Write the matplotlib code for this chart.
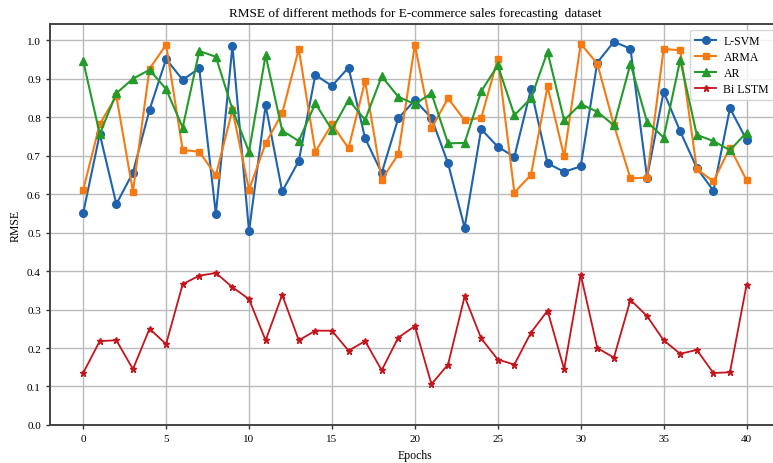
import numpy as np
import matplotlib.pyplot as plt

plt.rcParams['font.family'] = ['Liberation Serif', 'DejaVu Serif']

epochs = np.arange(41)

lsvm = [0.551, 0.756, 0.574, 0.656, 0.819, 0.951, 0.897, 0.927, 0.548, 0.985,
        0.503, 0.831, 0.607, 0.686, 0.910, 0.881, 0.929, 0.745, 0.655, 0.797,
        0.844, 0.798, 0.680, 0.513, 0.769, 0.723, 0.697, 0.873, 0.680, 0.658,
        0.672, 0.942, 0.996, 0.978, 0.643, 0.866, 0.763, 0.668, 0.609, 0.823,
        0.741]
arma = [0.611, 0.782, 0.855, 0.606, 0.926, 0.988, 0.715, 0.710, 0.649, 0.819,
        0.611, 0.732, 0.810, 0.977, 0.710, 0.782, 0.719, 0.894, 0.637, 0.704,
        0.988, 0.771, 0.849, 0.792, 0.798, 0.952, 0.604, 0.650, 0.880, 0.698,
        0.991, 0.939, 0.780, 0.641, 0.643, 0.977, 0.974, 0.665, 0.633, 0.721,
        0.636]
ar = [0.946, 0.756, 0.862, 0.900, 0.923, 0.873, 0.773, 0.972, 0.957, 0.820,
      0.710, 0.961, 0.765, 0.738, 0.836, 0.767, 0.845, 0.793, 0.906, 0.853,
      0.834, 0.862, 0.732, 0.733, 0.867, 0.935, 0.805, 0.849, 0.970, 0.792,
      0.834, 0.814, 0.779, 0.939, 0.788, 0.747, 0.949, 0.754, 0.738, 0.714,
      0.760]
bilstm = [0.135, 0.218, 0.220, 0.145, 0.250, 0.210, 0.366, 0.388, 0.395, 0.358,
          0.327, 0.220, 0.338, 0.220, 0.245, 0.245, 0.193, 0.218, 0.142, 0.227,
          0.257, 0.106, 0.157, 0.334, 0.225, 0.170, 0.157, 0.240, 0.297, 0.145,
          0.391, 0.200, 0.175, 0.325, 0.283, 0.220, 0.185, 0.195, 0.135, 0.137,
          0.364]

fig = plt.figure(figsize=(7.73, 4.64), dpi=100)
ax = fig.add_axes([0.0647, 0.082, 0.944, 0.864])

ax.plot(epochs, lsvm, color='#1f62ad', marker='o', markersize=5.5, lw=1.5, label='L-SVM')
ax.plot(epochs, arma, color='#f57a12', marker='s', markersize=5, lw=1.5, label='ARMA')
ax.plot(epochs, ar, color='#239a2a', marker='^', markersize=5.5, lw=1.5, label='AR')
ax.plot(epochs, bilstm, color='#c4141c', marker='*', markersize=4.5, lw=1.3, label='Bi LSTM')

ax.set_xlim(-2, 42)
ax.set_ylim(0, 1.042)
ax.set_xticks(range(0, 41, 5))
ax.set_yticks(np.arange(0, 1.01, 0.1))
ax.yaxis.set_major_formatter(plt.FormatStrFormatter('%.1f'))
ax.tick_params(labelsize=8, length=3, width=1, color='#333333')
ax.grid(True, color='#bbbbbb', lw=1)

for s in ax.spines.values():
    s.set_color('#444444')
    s.set_linewidth(1.4)

ax.set_title('RMSE of different methods for E-commerce sales forecasting  dataset', fontsize=9.5)
ax.set_xlabel('Epochs', fontsize=8.5, labelpad=4)
ax.set_ylabel('RMSE', fontsize=8.5)
ax.legend(loc='upper right', fontsize=8.5, borderaxespad=0.5, handlelength=1.8,
          labelspacing=0.35, handletextpad=0.6, borderpad=0.4)

fig.savefig('out.png', dpi=100)
